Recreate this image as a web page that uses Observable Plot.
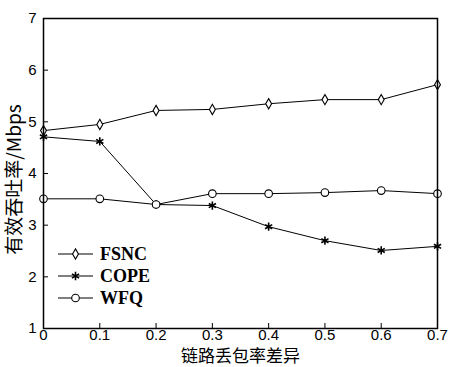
<!DOCTYPE html>
<html><head><meta charset="utf-8">
<script src="https://cdn.jsdelivr.net/npm/d3@7"></script>
<script src="https://cdn.jsdelivr.net/npm/@observablehq/plot@0.6"></script>
<style>
html,body{margin:0;padding:0;background:#fff;}
#wrap{position:relative;width:451px;height:367px;}
#legend{position:absolute;left:0;top:0;}
</style></head>
<body><div id="wrap"></div>
<script>
const xValues = [0, 0.1, 0.2, 0.3, 0.4, 0.5, 0.6, 0.7];
const fsnc = [4.83, 4.95, 5.22, 5.24, 5.35, 5.43, 5.43, 5.72];
const cope = [4.71, 4.62, 3.40, 3.38, 2.97, 2.70, 2.51, 2.59];
const wfq  = [3.51, 3.51, 3.40, 3.61, 3.61, 3.63, 3.67, 3.61];
const seriesNames = ["FSNC", "COPE", "WFQ"];
const seriesSymbols = ["diamond", "asterisk", "circle"];
const xTicks = [0, 0.1, 0.2, 0.3, 0.4, 0.5, 0.6, 0.7];
const xTickLabels = ["0", "0.1", "0.2", "0.3", "0.4", "0.5", "0.6", "0.7"];
const yTicks = [1, 2, 3, 4, 5, 6, 7];
const xLabel = "链路丢包率差异";
const yLabel = "有效吞吐率/Mbps";

const seriesValues = [fsnc, cope, wfq];
const rows = seriesNames.flatMap((s, i) => xValues.map((x, j) => ({series: s, x, y: seriesValues[i][j], sym: seriesSymbols[i]})));
const symR = {diamond: 3.1, asterisk: 3.9, circle: 3.8};

const W = 451, H = 367;
const plot = Plot.plot({
  width: W, height: H,
  marginLeft: 43, marginRight: 14, marginTop: 18, marginBottom: 39,
  style: {background: "#fff", color: "#000", overflow: "visible"},
  x: {domain: [0, 0.7]},
  y: {domain: [1, 7]},
  marks: [
    Plot.axisX({ticks: xTicks, tickSize: -5, tickFormat: () => "", label: null, stroke: "#000"}),
    Plot.axisX({ticks: xTicks, tickSize: 0, tickPadding: 0.5, tickFormat: (d, i) => xTickLabels[i], label: null, fontSize: 15, fontFamily: "Liberation Sans, Arial, sans-serif", fill: "#000"}),
    Plot.axisY({ticks: yTicks, tickSize: -5, tickFormat: () => "", label: null, stroke: "#000"}),
    Plot.axisY({ticks: yTicks, tickSize: 0, tickPadding: 7, tickFormat: d => String(d), label: null, fontSize: 15, fontFamily: "Liberation Sans, Arial, sans-serif", fill: "#000"}),
    Plot.line(rows, {x: "x", y: "y", z: "series", stroke: "#000", strokeWidth: 1}),
    ...seriesNames.map((s, i) => Plot.dot(rows.filter(d => d.series === s), {x: "x", y: "y", symbol: () => seriesSymbols[i], r: symR[seriesSymbols[i]], fill: "#fff", stroke: "#000", strokeWidth: seriesSymbols[i] === "asterisk" ? 1.6 : 1.1})),
    Plot.frame({stroke: "#000", strokeWidth: 1.5}),
    Plot.text([xLabel], {text: d => d, frameAnchor: "bottom", textAnchor: "middle", dy: 28.5, lineAnchor: "middle", fontSize: 17, fontFamily: "Noto Sans CJK SC, sans-serif", fill: "#000"}),
    Plot.text([yLabel], {text: d => d, frameAnchor: "left", textAnchor: "middle", dx: -29, dy: 6, rotate: -90, lineAnchor: "middle", fontSize: 19, fontFamily: "Noto Sans CJK SC, sans-serif", fill: "#000"})
  ]
});
const wrap = document.getElementById("wrap");
wrap.appendChild(plot);

// legend overlay
const leg = d3.select(wrap).append("svg").attr("id", "legend").attr("width", W).attr("height", H);
const rowY = [254, 276, 298];
const sym = {diamond: d3.symbolDiamond, asterisk: d3.symbolAsterisk, circle: d3.symbolCircle};
seriesNames.forEach((s, i) => {
  const g = leg.append("g").attr("transform", `translate(0,${rowY[i]})`);
  g.append("line").attr("x1", 58).attr("x2", 93).attr("y1", 0).attr("y2", 0).attr("stroke", "#000").attr("stroke-width", 1);
  const r = symR[seriesSymbols[i]];
  g.append("path").attr("transform", "translate(75.5,0)")
    .attr("d", d3.symbol(sym[seriesSymbols[i]], Math.PI * r * r)())
    .attr("fill", "#fff").attr("stroke", "#000").attr("stroke-width", seriesSymbols[i] === "asterisk" ? 1.6 : 1.1);
  g.append("text").attr("x", 100).attr("y", 0).attr("dy", "0.35em").text(s)
    .attr("font-family", "Liberation Serif, Times New Roman, serif").attr("font-weight", "bold").attr("font-size", 18).attr("fill", "#000");
});
</script></body></html>
